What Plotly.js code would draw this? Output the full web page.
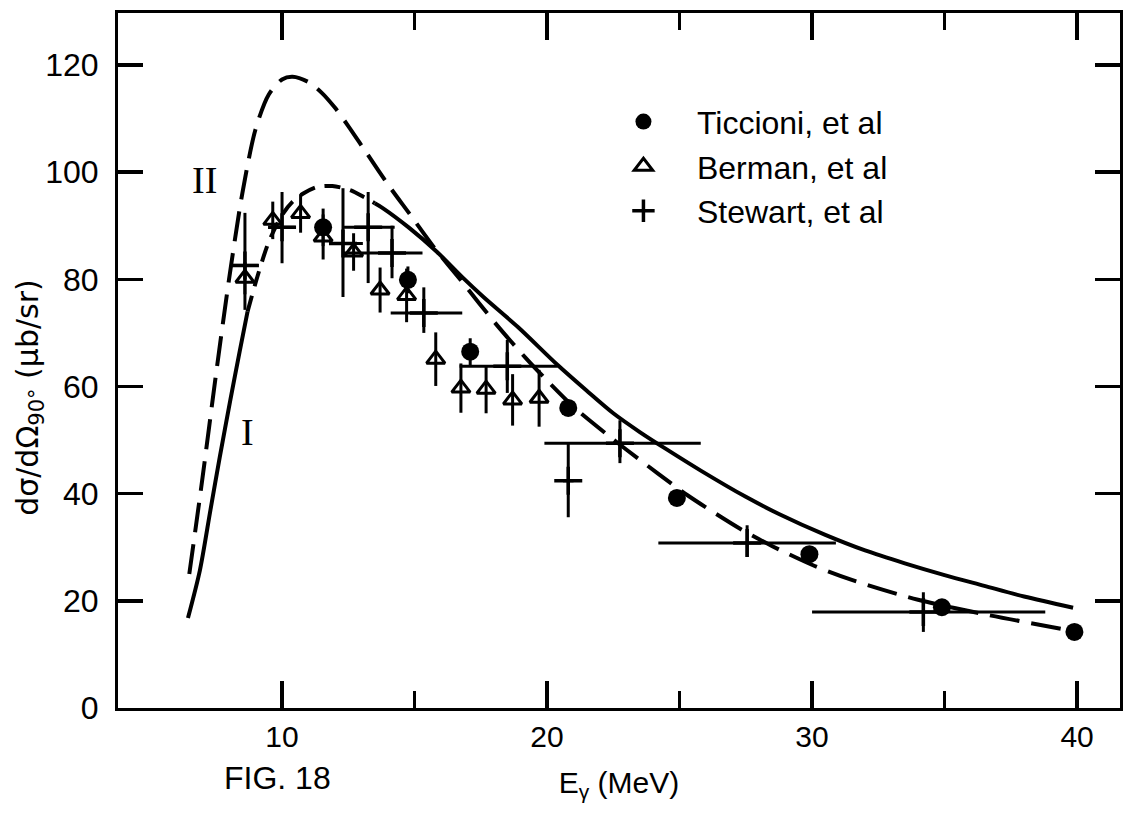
<!DOCTYPE html>
<html>
<head>
<meta charset="utf-8">
<script src="https://cdn.plot.ly/plotly-3.0.1.min.js"></script>
<style>
html,body{margin:0;padding:0;background:#fff;}
#chart{width:1126px;height:813px;}
</style>
</head>
<body>
<div id="chart"></div>
<script>
// ---- Theory curve I (solid, drawn dashed near its maximum) ----
const curveI_x = [6.45, 6.9, 7.3, 7.65, 8.05, 8.4, 8.7, 9.1, 9.5, 10.0, 10.4, 10.8, 11.3, 11.9, 12.6, 13.1, 13.5, 13.8, 14.8, 15.85, 16.8, 17.6, 18.9, 20.4, 21.5, 22.5, 23.5, 24.5, 25.8, 27.5, 28.75, 30.5, 32.0, 33.5, 35.0, 36.5, 38.0, 39.85];
const curveI_y = [16.8, 25.7, 37.0, 46.8, 57.5, 66.5, 74.0, 81.0, 87.0, 92.0, 94.5, 96.0, 97.2, 97.4, 96.6, 95.3, 94.2, 93.3, 89.6, 85.1, 80.4, 76.7, 71.1, 64.0, 59.2, 55.0, 51.5, 48.3, 44.3, 39.4, 36.2, 32.3, 29.4, 27.0, 24.8, 22.8, 20.8, 18.7];

// ---- Theory curve II (dashed) ----
const curveII_x = [6.5, 7.0, 7.5, 8.0, 8.5, 9.0, 9.5, 10.0, 10.4, 11.0, 11.5, 12.0, 12.5, 13.2, 14.1, 14.8, 15.7, 16.8, 18.1, 19.2, 20.1, 21.0, 22.3, 23.0, 24.2, 25.3, 27.3, 28.5, 30.1, 31.5, 34.0, 36.6, 39.6];
const curveII_y = [25, 43, 62, 80, 96, 108, 114.5, 117.3, 117.8, 116.8, 114.8, 112, 108.6, 103.5, 97, 92.3, 86.2, 79.5, 71.5, 65.3, 60.6, 56.2, 50.9, 48.2, 43.7, 39.7, 33.4, 30.2, 26.5, 23.9, 20.2, 17.4, 14.6];

// ---- Ticcioni, et al (filled circles) ----
const ticcioni_x = [11.55, 14.75, 17.1, 20.8, 24.9, 29.9, 34.9, 39.9];
const ticcioni_y = [89.7, 79.9, 66.5, 56.0, 39.2, 28.7, 18.8, 14.2];
const ticcioni_err = [3.5, 2.5, 2.5, 0, 0, 0, 0, 0];

// ---- Berman, et al (open triangles) ----
const berman_x = [8.6, 9.65, 10.7, 11.55, 12.7, 13.7, 14.7, 15.8, 16.75, 17.7, 18.7, 19.7];
const berman_y = [80.2, 91.0, 92.3, 87.9, 85.1, 78.0, 77.0, 65.1, 59.7, 59.5, 57.5, 57.8];
const berman_err = [3.0, 3.5, 3.6, 4.2, 3.5, 4.2, 5.0, 5.0, 4.6, 4.5, 4.8, 5.3];

// ---- Stewart, et al (crosses: energy bins and errors) ----
const stewart_x = [8.6, 10.0, 12.3, 13.25, 14.15, 15.35, 18.5, 20.8, 22.75, 27.55, 34.2];
const stewart_y = [82.6, 89.7, 86.7, 89.7, 84.9, 73.7, 63.8, 42.4, 49.4, 30.8, 17.9];
const stewart_xminus = [0.5, 0.4, 0.5, 0.95, 1.85, 1.25, 1.8, 0.2, 2.85, 3.35, 4.2];
const stewart_xplus = [0.5, 0.5, 0.75, 1.0, 1.15, 1.45, 1.9, 0.2, 3.05, 3.35, 4.6];
const stewart_yplus = [9.8, 6.6, 10.3, 6.6, 5.1, 4.8, 4.9, 7.0, 4.3, 3.3, 3.7];
const stewart_yminus = [8.3, 6.7, 10.0, 10.4, 4.7, 3.7, 5.0, 6.8, 3.7, 2.6, 3.7];

// ---- Axis ticks and labels ----
const xTicks = [10, 20, 30, 40];
const xMinorTicks = [15, 25, 35];
const yTicks = [0, 20, 40, 60, 80, 100, 120];
const xRange = [3.81, 41.62];
const legendNames = ['Ticcioni, et al', 'Berman, et al', 'Stewart, et al'];
const curveLabels = ['II', 'I'];

const INK = '#000';
const dashA = 6, dashB = 16; // curve I: dashed between these indices

const traces = [
  {x: curveI_x.slice(0, dashA + 1), y: curveI_y.slice(0, dashA + 1), mode: 'lines',
   line: {color: INK, width: 4, shape: 'spline', smoothing: 0.8}, showlegend: false, hoverinfo: 'skip'},
  {x: curveI_x.slice(dashA, dashB + 1), y: curveI_y.slice(dashA, dashB + 1), mode: 'lines',
   line: {color: INK, width: 4, shape: 'spline', smoothing: 0.8, dash: '16px,10px'}, showlegend: false, hoverinfo: 'skip'},
  {x: curveI_x.slice(dashB), y: curveI_y.slice(dashB), mode: 'lines',
   line: {color: INK, width: 4, shape: 'spline', smoothing: 0.8}, showlegend: false, hoverinfo: 'skip'},
  {x: curveII_x, y: curveII_y, mode: 'lines',
   line: {color: INK, width: 4, shape: 'spline', smoothing: 0.8, dash: '30px,12px'}, showlegend: false, hoverinfo: 'skip'},
  {x: ticcioni_x, y: ticcioni_y, name: legendNames[0], mode: 'markers',
   marker: {symbol: 'circle', size: 18, color: INK},
   error_y: {type: 'data', array: ticcioni_err, visible: true, width: 0, thickness: 3, color: INK}},
  {x: berman_x, y: berman_y, name: legendNames[1], mode: 'markers',
   marker: {symbol: 'triangle-up-open', size: 16, color: INK, line: {width: 3, color: INK}},
   error_y: {type: 'data', array: berman_err, visible: true, width: 0, thickness: 3, color: INK}},
  {x: stewart_x, y: stewart_y, name: legendNames[2], mode: 'markers',
   marker: {symbol: 'cross-thin', size: 20, color: INK, line: {width: 3.5, color: INK}},
   error_x: {type: 'data', symmetric: false, array: stewart_xplus, arrayminus: stewart_xminus, visible: true, width: 0, thickness: 3, color: INK},
   error_y: {type: 'data', symmetric: false, array: stewart_yplus, arrayminus: stewart_yminus, visible: true, width: 0, thickness: 3, color: INK}}
];

const layout = {
  width: 1126, height: 813,
  paper_bgcolor: '#fff', plot_bgcolor: '#fff',
  margin: {l: 118, r: 6, t: 13, b: 105},
  font: {family: 'Liberation Sans, Arial, sans-serif', color: INK},
  showlegend: true,
  legend: {x: 0.471, xanchor: 'left', y: 0.883, yanchor: 'top', bgcolor: 'rgba(0,0,0,0)',
           itemwidth: 97,
           font: {size: 32, family: 'Liberation Sans, Arial, sans-serif', color: INK}},
  xaxis: {
    range: xRange, showgrid: false, zeroline: false,
    showline: true, linewidth: 3, linecolor: INK, mirror: 'ticks',
    tickmode: 'array', tickvals: xTicks, ticktext: xTicks.map(String),
    ticks: 'inside', ticklen: 27, tickwidth: 3.5, tickcolor: INK,
    minor: {tickmode: 'array', tickvals: xMinorTicks, ticks: 'inside', ticklen: 17, tickwidth: 3.5, tickcolor: INK},
    tickfont: {size: 30, color: INK},
    title: {text: 'E<sub>γ</sub> (MeV)', font: {size: 30, color: INK}, standoff: 20}
  },
  yaxis: {
    range: [0, 129.7], showgrid: false, zeroline: false,
    showline: true, linewidth: 3, linecolor: INK, mirror: 'ticks',
    tickmode: 'array', tickvals: yTicks, ticktext: yTicks.map(String),
    ticks: 'inside', ticklen: 25, tickwidth: 3.5, tickcolor: INK,
    ticklabelstandoff: 10,
    tickfont: {size: 32, color: INK}
  },
  annotations: [
    {xref: 'paper', yref: 'paper', x: -0.088, y: 0.4475, xanchor: 'center', yanchor: 'middle',
     text: 'dσ/dΩ<sub>90°</sub> (μb/sr)', textangle: -90, showarrow: false,
     font: {size: 30, family: 'DejaVu Sans, sans-serif', color: INK}},
    {xref: 'paper', yref: 'paper', x: 0.1587, y: -0.1007, xanchor: 'center', yanchor: 'middle',
     text: 'FIG. 18', showarrow: false, font: {size: 32, color: INK}},
    {xref: 'x', yref: 'y', x: 7.09, y: 98.5, text: curveLabels[0], showarrow: false,
     font: {size: 38, family: 'Liberation Serif, serif', color: INK}},
    {xref: 'x', yref: 'y', x: 8.68, y: 51.5, text: curveLabels[1], showarrow: false,
     font: {size: 38, family: 'Liberation Serif, serif', color: INK}}
  ]
};

Plotly.newPlot('chart', traces, layout, {displayModeBar: false, staticPlot: true});
</script>
</body>
</html>
